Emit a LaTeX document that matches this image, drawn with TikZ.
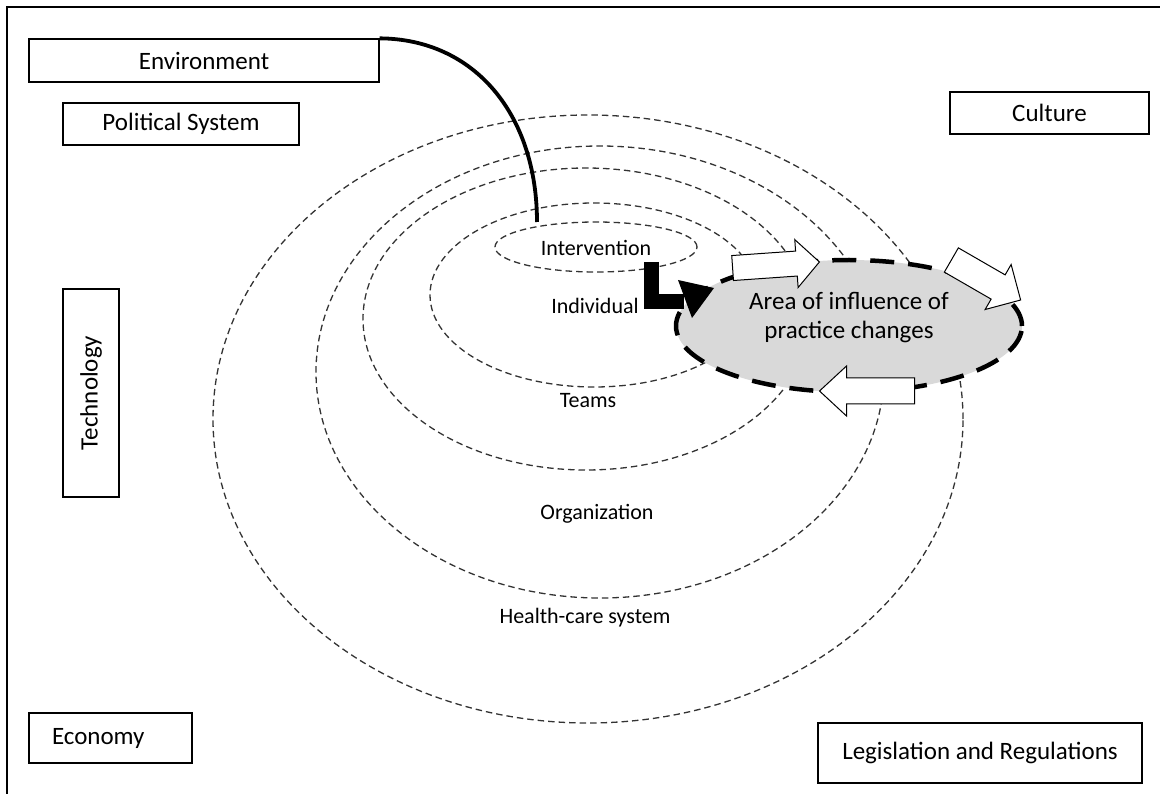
\documentclass[tikz,border=0pt]{standalone}
\usepackage{fontspec}
\setmainfont{Carlito}
\usetikzlibrary{shapes.geometric}
\definecolor{areagrey}{RGB}{217,217,217}

\begin{document}
\begin{tikzpicture}[x=1pt,y=-1pt,
  factor/.style={draw,line width=1.3pt,inner sep=0pt,font=\fontsize{25}{30}\selectfont},
  ring/.style={draw=black!80,line width=1.3pt,dash pattern=on 6.5pt off 4pt},
  level/.style={inner sep=0pt,font=\fontsize{22}{26}\selectfont},
  flowbox/.style={draw,line width=1pt,fill=white}]
\useasboundingbox (0,0) rectangle (1160,794);
\clip (0,0) rectangle (1160,794);
\draw[line width=1.5pt] (7,7) rectangle (1180,810);

% context factors
\node[factor,minimum width=350pt,minimum height=43pt] (env) at (204,60.5) {Environment};
\node[factor,minimum width=236pt,minimum height=42pt] (pol) at (181,124) {Political System};
\node[factor,minimum width=199pt,minimum height=42pt] (cult) at (1049.5,113) {Culture};
\node[factor,minimum width=208pt,minimum height=56pt,rotate=90] (tech) at (91,393) {Technology};
\node[factor,minimum height=50pt,text width=117pt,inner xsep=23pt,align=left] (econ) at (110.5,738) {Economy};
\node[factor,minimum width=324pt,minimum height=60pt] (leg) at (980,753) {Legislation and Regulations};

% nested levels
\draw[ring] (588,419) ellipse [x radius=375pt,y radius=304pt];
\draw[ring] (600,372) ellipse [x radius=284pt,y radius=226pt];
\draw[ring] (586,319) ellipse [x radius=223pt,y radius=151pt];
\draw[ring] (594,295) ellipse [x radius=164pt,y radius=92pt];
\draw[ring] (596,247) ellipse [x radius=101pt,y radius=25pt];

\node[level] (interv) at (596,248) {Intervention};
\node[level] (indiv) at (595,306) {Individual};
\node[level] (teams) at (588,401) {Teams};
\node[level] (orga) at (597,514) {Organization};
\node[level] (hcs) at (585,618) {Health-care system};

% environment link
\coordinate (ivtop) at (537,222);
\draw[line width=3.8pt] (env.north east) .. controls (475,39) and (537,115) .. (ivtop);

% area of influence
\node[ellipse,draw,fill=areagrey,line width=4.5pt,dash pattern=on 24pt off 14pt,
  minimum width=346pt,minimum height=132pt,inner sep=0pt] (area) at (849,326) {};
\node[align=center,inner sep=0pt,font=\fontsize{25}{29}\selectfont] (areatext) at (849,318)
  {Area of influence of\\practice changes};

% flows in and out
\draw[flowbox,shift={(776,265)},rotate=4]
  (-43.5,-12.5) -- (20.5,-12.5) -- (20.5,-24) -- (43.5,0) -- (20.5,24) -- (20.5,12.5) -- (-43.5,12.5) -- cycle;
\draw[flowbox,shift={(986,280)},rotate=-30]
  (-40,-14) -- (14,-14) -- (14,-26) -- (40,0) -- (14,26) -- (14,14) -- (-40,14) -- cycle;
\draw[flowbox,shift={(867,391)},rotate=180]
  (-47.5,-13) -- (20.5,-13) -- (20.5,-25) -- (47.5,0) -- (20.5,25) -- (20.5,13) -- (-47.5,13) -- cycle;

% intervention to area
\coordinate (lstart) at (651,262);
\coordinate (lknee) at (651,302);
\coordinate (lend) at (684,302);
\coordinate (ltip) at (714,288);
\draw[line width=15pt,line join=miter] (lstart) -- (lknee) -- (lend);
\fill (678,280) -- (ltip) -- (692,318) -- cycle;
\end{tikzpicture}
\end{document}
